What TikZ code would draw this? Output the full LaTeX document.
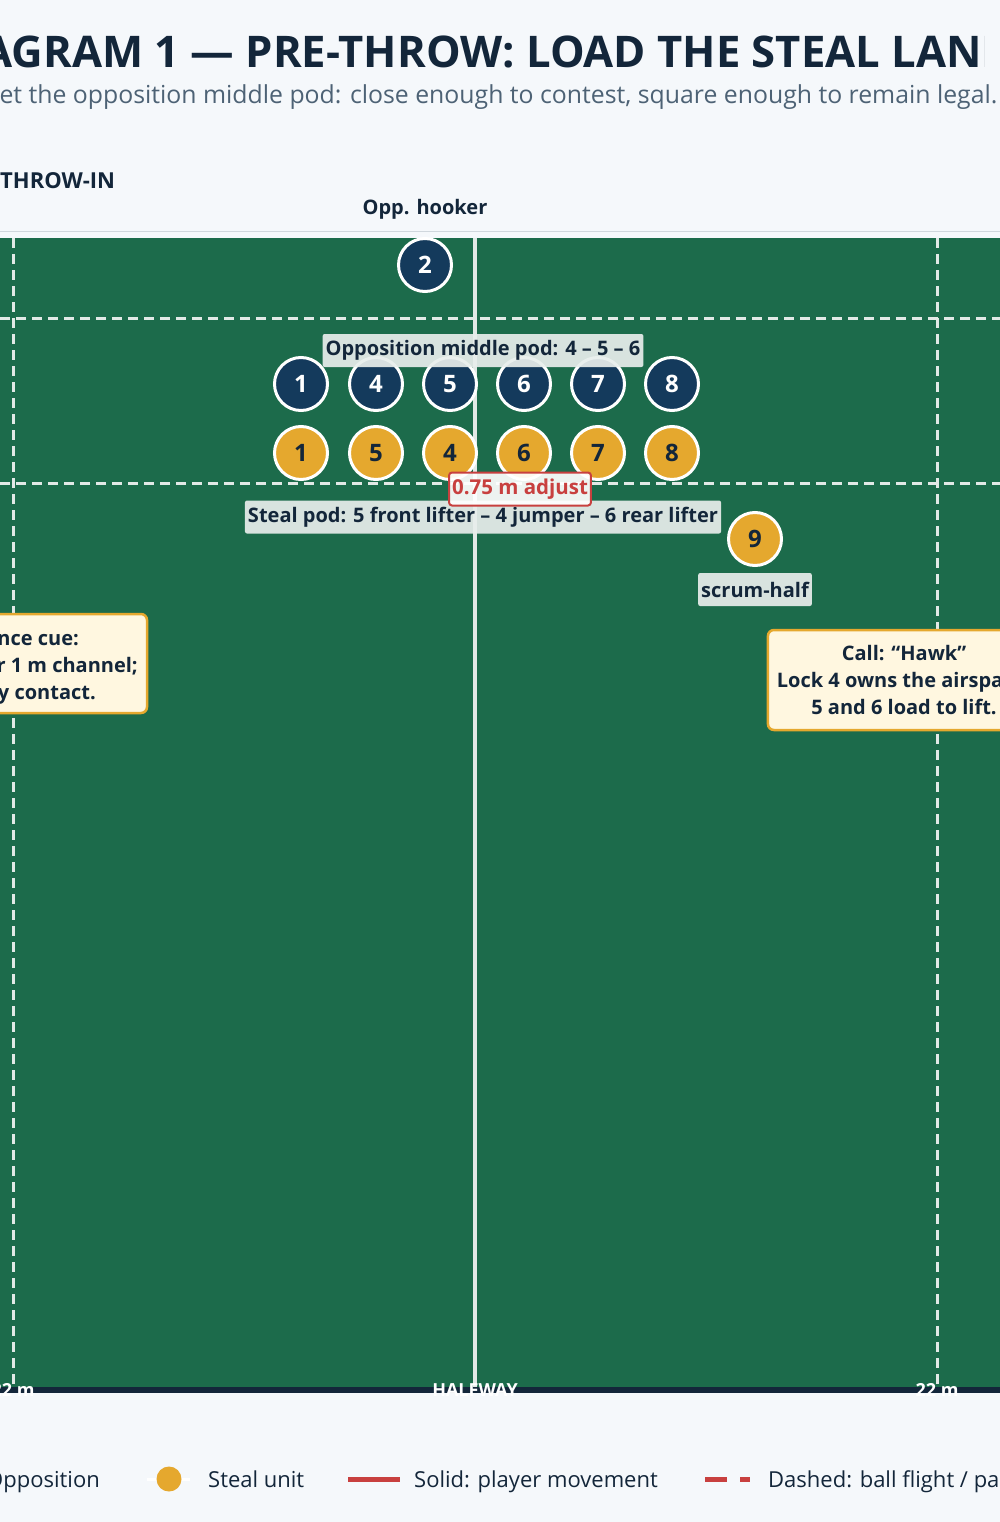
\documentclass[tikz,border=0pt]{standalone}
\usepackage{fontspec}
\setmainfont{Open Sans}
\usetikzlibrary{positioning}
\definecolor{pagebg}{HTML}{F5F8FB}
\definecolor{pitchgreen}{HTML}{1C6B4B}
\definecolor{oppnavy}{HTML}{143A5C}
\definecolor{inkdark}{HTML}{13263A}
\definecolor{stealgold}{HTML}{E5A82E}
\definecolor{callred}{HTML}{C8403F}
\definecolor{subgray}{HTML}{4D6275}
\definecolor{linewhite}{HTML}{E2E9E6}
\definecolor{edgegray}{HTML}{D0D7DD}
\definecolor{notecream}{HTML}{FFF7E0}
\definecolor{tagfill}{HTML}{E8EEEC}

\begin{document}
\begin{tikzpicture}[x=1pt, y=-1pt,
  every node/.style={text=inkdark},
  opp/.style={circle, fill=oppnavy, draw=white, line width=3pt, minimum size=53pt,
    inner sep=0pt, text=white, font=\bfseries\fontsize{24}{24}\selectfont},
  steal/.style={opp, fill=stealgold, text=inkdark},
  tag/.style={fill=tagfill, fill opacity=0.92, text opacity=1, rounded corners=2pt,
    inner xsep=3pt, inner ysep=0pt, minimum height=33pt, font=\bfseries\fontsize{20}{20}\selectfont},
  notetext/.style={font=\bfseries\fontsize{20}{20}\selectfont, anchor=base east, inner sep=0pt},
  markings/.style={linewhite, line width=3pt},
  legendtext/.style={font=\fontsize{22}{22}\selectfont, anchor=base west, inner sep=0pt}]

  % ---- Page and clip ----
  \useasboundingbox (0,0) rectangle (1000,1522);
  \clip (0,0) rectangle (1000,1522);
  \fill[pagebg] (0,0) rectangle (1000,1522);

  % ---- Title block ----
  \begin{scope}
    \clip (0,0) rectangle (984,80);
    \node[font=\bfseries\fontsize{43.6}{44}\selectfont, anchor=base] (title) at (471,68)
      {DIAGRAM 1 — PRE-THROW: LOAD THE STEAL LANE};
  \end{scope}
  \node[font=\fontsize{24.8}{25}\selectfont, text=subgray, anchor=base] (subtitle) at (474,104)
    {Target the opposition middle pod: close enough to contest, square enough to remain legal.};

  \node[font=\bfseries\fontsize{22}{22}\selectfont, anchor=base west, inner sep=0pt] (throwin) at (0,189) {THROW-IN};

  % ---- Pitch ----
  \draw[edgegray, line width=1pt] (0,232) -- (1000,232);
  \fill[pitchgreen] (0,238) rectangle (1000,1387);
  \fill[inkdark] (0,1387) rectangle (1000,1393);

  % lineout tramlines and pitch lines
  \draw[markings, dash pattern=on 10pt off 6pt] (0,318) -- (1000,318);
  \draw[markings, dash pattern=on 10pt off 6pt] (0,483) -- (1000,483);
  \draw[markings, dash pattern=on 10pt off 6pt] (13,238) -- (13,1387);
  \draw[markings, dash pattern=on 10pt off 6pt] (937,238) -- (937,1387);
  \draw[markings, line width=3.5pt] (475,238) -- (475,1387);

  \node[font=\bfseries\fontsize{18}{18}\selectfont, text=white, anchor=base] (lbl22l) at (13,1396) {22 m};
  \node[font=\bfseries\fontsize{18}{18}\selectfont, text=white, anchor=base] (lblhalf) at (475,1396) {HALFWAY};
  \node[font=\bfseries\fontsize{18}{18}\selectfont, text=white, anchor=base] (lbl22r) at (937,1396) {22 m};

  % ---- Opposition hooker ----
  \node[opp] (opp2) at (425,265) {2};
  \node[font=\bfseries\fontsize{20}{20}\selectfont, anchor=base] (hooklbl) at (425,215) {Opp. hooker};

  % ---- Opposition line ----
  \node[opp] (opp1) at (301,384) {1};
  \node[opp] (opp4) at (376,384) {4};
  \node[opp] (opp5) at (450,384) {5};
  \node[opp] (opp6) at (524,384) {6};
  \node[opp] (opp7) at (598,384) {7};
  \node[opp] (opp8) at (672,384) {8};

  % ---- Steal unit line ----
  \node[steal] (st1) at (301,453) {1};
  \node[steal] (st5) at (376,453) {5};
  \node[steal] (st4) at (450,453) {4};
  \node[steal] (st6) at (524,453) {6};
  \node[steal] (st7) at (598,453) {7};
  \node[steal] (st8) at (672,453) {8};
  \node[steal] (st9) at (755,539) {9};

  % ---- Pod tags ----
  \node[tag] (opppod) at (483,350.5) {Opposition middle pod: 4 – 5 – 6};
  \node[tag] (stealpod) at (483,517) {Steal pod: 5 front lifter – 4 jumper – 6 rear lifter};
  \node[tag] (shlbl) at (755,589.5) {scrum-half};
  \node[draw=callred, line width=2pt, fill=white, fill opacity=0.92, text opacity=1,
    rounded corners=3pt, inner xsep=3pt, inner ysep=0pt, minimum height=33pt,
    text=callred, font=\bfseries\fontsize{20.5}{20.5}\selectfont] (adjust) at (520,489) {0.75 m adjust};

  % ---- Coaching notes ----
  \draw[stealgold, fill=notecream, line width=2.5pt, rounded corners=6pt]
    (-30,614) rectangle (147,713);
  \node[notetext] (cueA) at (79,645) {nce cue:};
  \node[notetext] (cueB) at (138,672) {r 1 m channel;};
  \node[notetext] (cueC) at (96,699) {y contact.};

  \node[draw=stealgold, fill=notecream, line width=2.5pt, rounded corners=6pt,
    align=center, inner xsep=9pt, minimum height=100pt,
    font=\bfseries\fontsize{20}{27}\selectfont] (call) at (904,680)
    {Call: “Hawk”\\ Lock 4 owns the airspace.\\ 5 and 6 load to lift.};

  % ---- Legend ----
  \node[legendtext, anchor=base east] (legopp) at (100,1487) {Opposition};
  \draw[white, line width=3pt] (147,1479) -- (190,1479);
  \node[circle, fill=stealgold, minimum size=25pt, inner sep=0pt] (legsteal) at (169,1479) {};
  \node[legendtext] (legsteallbl) at (208,1487) {Steal unit};
  \draw[callred, line width=5pt] (348,1479) -- (400,1479);
  \node[legendtext] (legsolid) at (414,1487) {Solid: player movement};
  \draw[callred, line width=5pt, dash pattern=on 22pt off 13pt] (705,1479) -- (750,1479);
  \node[legendtext] (legdash) at (768,1487) {Dashed: ball flight / pass};

\end{tikzpicture}
\end{document}
